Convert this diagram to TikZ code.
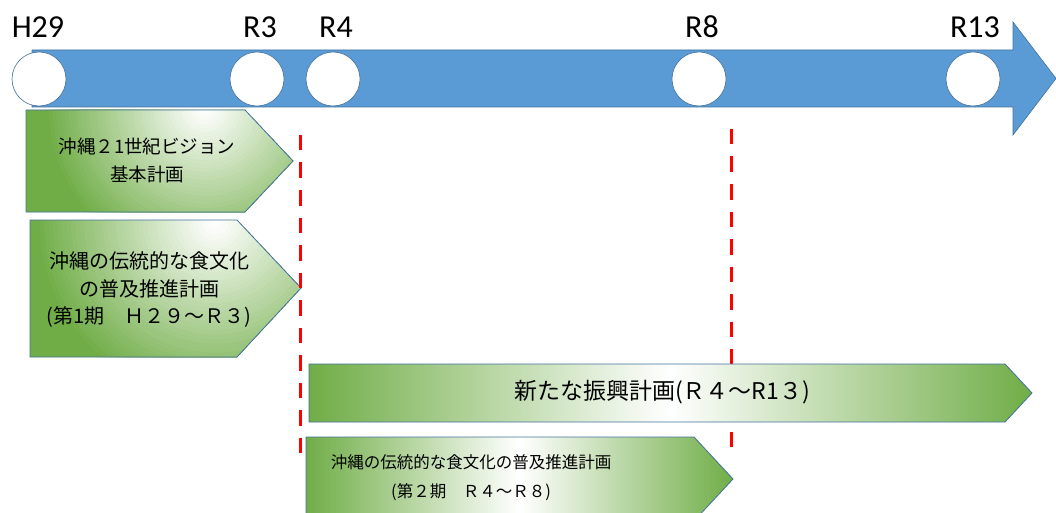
\documentclass[tikz,border=0pt]{standalone}
\usepackage{fontspec}
\setmainfont{Carlito}
\newfontfamily\jp{Noto Sans CJK JP}
\definecolor{arrowblue}{HTML}{5B9BD5}
\definecolor{edgeblue}{HTML}{41719C}
\definecolor{pgreen}{HTML}{70AD47}
\definecolor{dashred}{HTML}{FF0000}
\begin{document}
\begin{tikzpicture}[x=1pt,y=-1pt,
  yearlabel/.style={font=\fontsize{32}{32}\selectfont, anchor=base, inner sep=0pt},
  yearcircle/.style={circle, draw=edgeblue, fill=white, minimum size=54pt, inner sep=0pt, line width=0.6pt},
  planedge/.style={draw=edgeblue, line width=0.8pt},
  plantext/.style={align=center, inner sep=0pt},
  cutline/.style={draw=dashred, line width=3pt, dash pattern=on 15.5pt off 12pt}
]
\useasboundingbox (0,0) rectangle (1056,513);

% timeline arrow
\path[fill=arrowblue, draw=edgeblue, line width=0.6pt]
  (32,50) -- (1013,50) -- (1013,22) -- (1056,78.5) -- (1013,135) -- (1013,107) -- (32,107) -- cycle;

\node[yearcircle] (c29) at (39,79) {};
\node[yearcircle] (c3)  at (257,79) {};
\node[yearcircle] (c4)  at (333,79) {};
\node[yearcircle] (c8)  at (699,79) {};
\node[yearcircle] (c13) at (973,79) {};

\node[yearlabel] (l29) at (38,38) {H29};
\node[yearlabel] (l3)  at (260,38) {R3};
\node[yearlabel] (l4)  at (336,38) {R4};
\node[yearlabel] (l8)  at (702,38) {R8};
\node[yearlabel] (l13) at (975,38) {R13};

% plan 1: radial gradient built from concentric discs
\begin{scope}
  \clip (26,110) -- (245,110) -- (293,161) -- (245,212) -- (26,212) -- cycle;
  \fill[pgreen] (20,100) rectangle (300,220);
  \foreach \i in {0,...,39}{
    \pgfmathsetmacro\rr{160*(1-\i/40)}
    \pgfmathtruncatemacro\pp{100-\i*100/39}
    \fill[pgreen!\pp!white] (205,108) circle (\rr);
  }
\end{scope}
\path[planedge] (26,110) -- (245,110) -- (293,161) -- (245,212) -- (26,212) -- cycle;
\node[plantext, font=\jp\fontsize{18.5}{28}\selectfont] (t1) at (147,160)
  {沖縄２1世紀ビジョン\\基本計画};

% plan 2
\begin{scope}
  \clip (30,220) -- (237,220) -- (301,288) -- (237,357) -- (30,357) -- cycle;
  \fill[pgreen] (20,210) rectangle (310,360);
  \foreach \i in {0,...,39}{
    \pgfmathsetmacro\rr{180*(1-\i/40)}
    \pgfmathtruncatemacro\pp{100-\i*100/39}
    \fill[pgreen!\pp!white] (215,222) circle (\rr);
  }
\end{scope}
\path[planedge] (30,220) -- (237,220) -- (301,288) -- (237,357) -- (30,357) -- cycle;
\node[plantext, font=\jp\fontsize{20}{27.5}\selectfont] (t2) at (149,290)
  {沖縄の伝統的な食文化\\の普及推進計画\\(第1期　Ｈ２９～Ｒ３)};

% cut lines
\coordinate (d1a) at (300,135);
\coordinate (d1b) at (300,453);
\coordinate (d2a) at (731,129);
\coordinate (d2b) at (731,446.5);
\draw[cutline] (d1a) -- (d1b);
\draw[cutline] (d2a) -- (d2b);

% plan 3
\shade[left color=pgreen, right color=pgreen, middle color=white, planedge]
  (309,364) -- (1005,364) -- (1032,393) -- (1005,422) -- (309,422) -- cycle;
\node[plantext, font=\jp\fontsize{23}{26}\selectfont] (t3) at (662,392)
  {新たな振興計画(Ｒ４～R1３)};

% plan 4
\shade[left color=pgreen, right color=pgreen, middle color=white, planedge]
  (306,437) -- (694,437) -- (733,479) -- (694,521) -- (306,521) -- cycle;
\node[plantext, font=\jp\fontsize{16.5}{29}\selectfont] (t4) at (471,478)
  {沖縄の伝統的な食文化の普及推進計画\\(第２期　Ｒ４～Ｒ８)};
\end{tikzpicture}
\end{document}
